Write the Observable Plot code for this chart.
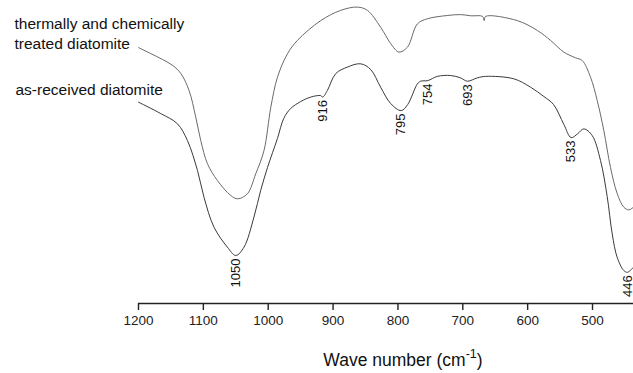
<!DOCTYPE html>
<html><head><meta charset="utf-8">
<script src="https://cdn.jsdelivr.net/npm/d3@7"></script>
<script src="https://cdn.jsdelivr.net/npm/@observablehq/plot@0.6"></script>
<style>body{margin:0;background:#fff} svg{display:block}</style>
</head><body><div id="chart"></div>
<script>
// Wave numbers (cm^-1) and transmittance (arbitrary %)
const treatedWn = [1200,1181,1162.6,1147,1134.8,1122,1111.7,1104,1093.7,1078.3,1057.7,1047,1032,1019.3,1006.5,996,985.8,970.4,955,919,888.3,862.6,847,826.7,811,798.5,785.5,770,754.7,724,703.4,687.5,669.5,667,664.9,616,585,564.7,544.2,526.2,515.9,503,492.8,482.6,472.3,462,451.8,444,436.8];
const treatedT  = [85.3,83.3,81.3,79.3,76.7,71,62.1,54.3,46.6,41,36,34.9,36.6,43.2,51,65.4,75.4,83.2,87.7,94.3,97.7,98.8,97.7,92.1,86.6,83.8,85.4,93.2,94.9,96,96.3,95.9,95.7,94.3,95.7,94.3,91,87.7,83.8,81.9,81,75.4,67.7,57.7,45.4,36.7,32.1,31.2,32.1];

const receivedWn = [1200,1165.6,1140,1124.5,1109,1099,1083.5,1063,1050,1037.3,1022,1011.6,1001,985.8,976,965.4,950,934.5,919,916,908.8,896,878,857.5,842,826.7,811,795,785,770,765,754,739.3,718.8,703.4,693,677.7,664.9,621.3,595.5,575,560,544.2,533,522.8,513.4,500.5,487.7,477.4,469.6,462,451.8,446,436.8];
const receivedT  = [67.1,63.3,59.9,54.3,44.3,35.4,25.4,18.8,16,18.8,28.8,37.7,45.4,55,61.7,65,67.3,68.8,69.3,68.8,71,76.6,78.8,79.9,78,72.1,66.6,64.3,66.3,73.2,74.1,74.3,75.7,76,75.2,74.1,75.2,75.7,74.9,72.1,69,66.3,59.7,55.3,56.6,58.2,56,47.7,35.7,23.2,15.4,11,10.4,12.1];

const peakWn = [1050, 916, 795, 754, 693, 533, 446];
const xTicks = [1200, 1100, 1000, 900, 800, 700, 600, 500];
const seriesLabels = ["thermally and chemically\ntreated diatomite", "as-received diatomite"];
const axisTitle = "Wave number (cm";

const treated = treatedWn.map((w, i) => ({wn: w, t: treatedT[i]}));
const received = receivedWn.map((w, i) => ({wn: w, t: receivedT[i]}));
const peaks = peakWn.map(w => ({wn: w, t: receivedT[receivedWn.indexOf(w)], label: String(w)}));

const font = "'Liberation Sans', Arial, Helvetica, sans-serif";

const chart = Plot.plot({
  width: 633,
  height: 373,
  marginLeft: 138,
  marginRight: 0,
  marginTop: 3,
  marginBottom: 70,
  style: {fontFamily: font, background: "white"},
  x: {domain: [1200, 436.8], axis: null},
  y: {domain: [0, 100], axis: null},
  marks: [
    Plot.line(treated, {x: "wn", y: "t", stroke: "#6a6a6a", strokeWidth: 1, curve: "catmull-rom", clip: true}),
    Plot.line(received, {x: "wn", y: "t", stroke: "#3a3a3a", strokeWidth: 1, curve: "catmull-rom", clip: true}),
    Plot.text(peaks, {x: "wn", y: "t", text: "label", rotate: -90, textAnchor: "end", dy: 3, fontSize: 13, fill: "#111"}),
    Plot.ruleY([0], {stroke: "#222", strokeWidth: 1.6}),
    Plot.axisX({ticks: xTicks, tickSize: 7, tickPadding: 5, fontSize: 13.5, color: "#222", strokeWidth: 1.4, label: null, tickFormat: d => String(d)}),
    Plot.text([seriesLabels[0]], {frameAnchor: "top-left", textAnchor: "start", lineAnchor: "top", dx: -124, dy: 12, fontSize: 15.5, lineHeight: 1.26, fill: "#111", text: d => d}),
    Plot.text([seriesLabels[1]], {frameAnchor: "top-left", textAnchor: "start", lineAnchor: "top", dx: -123, dy: 80, fontSize: 15.5, fill: "#111", text: d => d})
  ]
});

const svg = d3.select(chart);
const t = svg.append("text")
  .attr("x", 403).attr("y", 366)
  .attr("text-anchor", "middle")
  .attr("font-size", 17.5)
  .attr("font-family", font)
  .attr("fill", "#111");
t.append("tspan").text(axisTitle);
t.append("tspan").attr("font-size", 12.5).attr("dy", -8).text("-1");
t.append("tspan").attr("dy", 8).text(")");

document.getElementById("chart").appendChild(chart);
</script>
</body></html>
